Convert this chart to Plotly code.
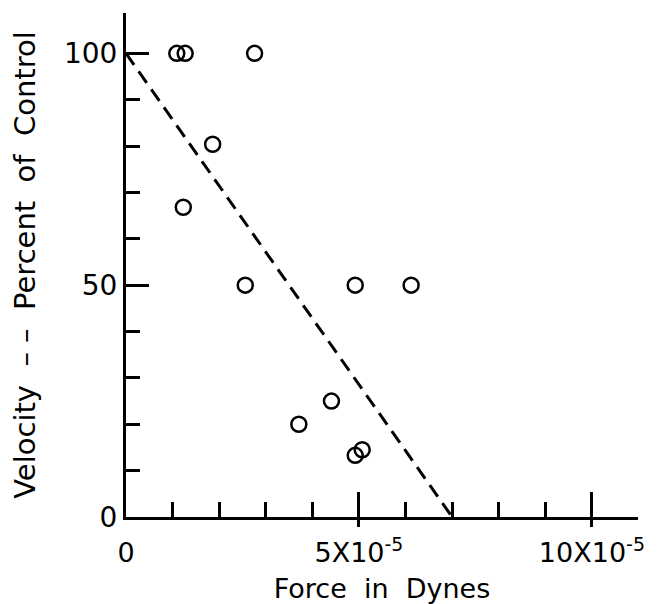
import plotly.graph_objects as go

# Data
force = [1.09, 1.27, 2.76, 1.86, 1.23, 2.56, 4.92, 6.12, 4.41, 3.71, 4.92, 5.07]
velocity = [100, 100, 100, 80.4, 66.8, 50, 50, 50, 25, 20, 13.3, 14.5]
fit_force = [0, 7]
fit_velocity = [100, 0]

x_tickvals = [0, 5, 10]
x_ticktext = ["0", "5X10<sup>-5</sup>", "10X10<sup>-5</sup>"]
y_tickvals = [0, 50, 100]
y_ticktext = ["0", "50", "100"]

FONT = "DejaVu Sans"
BLACK = "#000000"
NB = "\u00a0"

fig = go.Figure()
fig.add_trace(go.Scatter(
    x=fit_force, y=fit_velocity, mode="lines",
    line=dict(color=BLACK, width=3, dash="14px,8px"),
    showlegend=False, hoverinfo="skip"))
fig.add_trace(go.Scatter(
    x=force, y=velocity, mode="markers",
    marker=dict(symbol="circle-open", size=15, color=BLACK, line=dict(width=2.5, color=BLACK)),
    showlegend=False))
# invisible trace so the overlay axis (outer parts of major x ticks) is drawn
fig.add_trace(go.Scatter(x=[None], y=[None], xaxis="x2", yaxis="y", showlegend=False, hoverinfo="skip"))

y_title = ("Velocity" + NB * 2 + "–" + NB + "–" + NB * 2 + "Percent" + NB * 2 + "of" + NB * 2 + "Control")
x_title = "Force" + NB * 2 + "in" + NB * 2 + "Dynes"

fig.update_layout(
    width=660, height=604,
    margin=dict(l=118, r=30, t=5, b=95),
    paper_bgcolor="white", plot_bgcolor="white",
    font=dict(family=FONT, color=BLACK),
    xaxis=dict(
        range=[0, 10.99], showgrid=False, zeroline=False,
        showline=True, linecolor=BLACK, linewidth=3,
        tickmode="array", tickvals=x_tickvals, ticktext=x_ticktext,
        ticks="inside", ticklen=25, tickwidth=3, tickcolor=BLACK,
        tickfont=dict(family=FONT, size=27, color=BLACK),
        ticklabelstandoff=10,
        minor=dict(dtick=1, tick0=0, ticks="inside", ticklen=15, tickwidth=2.5, tickcolor=BLACK, showgrid=False),
        title=dict(text=x_title, font=dict(family=FONT, size=27, color=BLACK), standoff=12),
    ),
    xaxis2=dict(
        overlaying="x", anchor="y", side="bottom", matches="x",
        range=[0, 10.99], showgrid=False, zeroline=False, showline=False,
        tickmode="array", tickvals=[5, 10], showticklabels=False,
        ticks="outside", ticklen=9, tickwidth=3, tickcolor=BLACK,
    ),
    yaxis=dict(
        range=[0, 108.7], showgrid=False, zeroline=False,
        showline=True, linecolor=BLACK, linewidth=3,
        tickmode="array", tickvals=y_tickvals, ticktext=y_ticktext,
        ticks="inside", ticklen=23, tickwidth=3, tickcolor=BLACK,
        tickfont=dict(family=FONT, size=28, color=BLACK),
        minor=dict(dtick=10, tick0=0, ticks="inside", ticklen=14, tickwidth=2.5, tickcolor=BLACK, showgrid=False),
        title=dict(text=y_title, font=dict(family=FONT, size=29, color=BLACK), standoff=26),
    ),
)

fig.write_html("out.html")
